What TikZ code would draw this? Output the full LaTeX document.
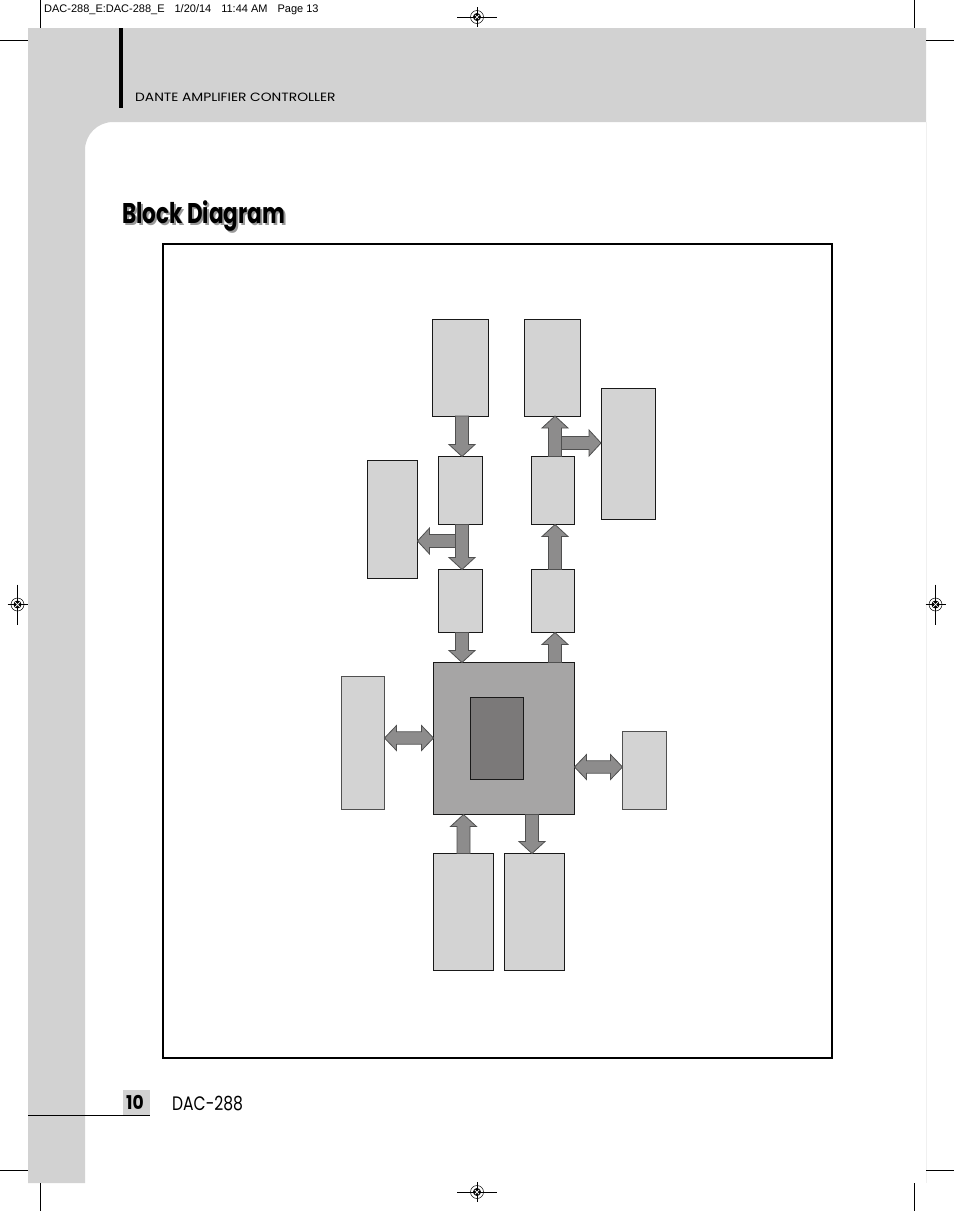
\documentclass[tikz,border=0pt]{standalone}
\usepackage{fontspec}
\usepackage{graphicx}
\newfontfamily\hdrfont{Liberation Sans}
\newfontfamily\futfont{Poppins}
\usetikzlibrary{calc}
\definecolor{bggray}{HTML}{D2D2D2}
\definecolor{boxfill}{HTML}{D3D3D3}
\definecolor{cpufill}{HTML}{A6A5A5}
\definecolor{innerfill}{HTML}{7B7979}
\definecolor{arrfill}{HTML}{8D8C8C}
\definecolor{arredge}{HTML}{505050}
\tikzset{
  blk/.style={draw=black!90, line width=1pt, fill=boxfill, inner sep=0pt, outer sep=0pt, anchor=north west},
  sblk/.style={draw=arredge, line width=0.8pt, fill=boxfill, inner sep=0pt, outer sep=0pt, anchor=north west},
  fatarr/.style={draw=arredge, line width=0.8pt, fill=arrfill, line join=miter},
  crop/.style={draw=black, line width=0.8pt},
  regline/.style={draw=black, line width=0.6pt},
}
\newcommand\fatarrow[2]{%
  \coordinate (fa-s) at (#1);
  \coordinate (fa-e) at (#2);
  \coordinate (fa-b) at ($(fa-e)!12pt!(fa-s)$);
  \draw[fatarr] ($(fa-s)!6.5pt!90:(fa-e)$) -- ($(fa-b)!6.5pt!-90:(fa-s)$) -- ($(fa-b)!13pt!-90:(fa-s)$) -- (fa-e) -- ($(fa-b)!13pt!90:(fa-s)$) -- ($(fa-b)!6.5pt!90:(fa-s)$) -- ($(fa-s)!6.5pt!-90:(fa-e)$) -- cycle;}
\newcommand\fatdouble[2]{%
  \coordinate (fa-s) at (#1);
  \coordinate (fa-e) at (#2);
  \coordinate (fa-b) at ($(fa-e)!12pt!(fa-s)$);
  \coordinate (fa-a) at ($(fa-s)!12pt!(fa-e)$);
  \draw[fatarr] (fa-s) -- ($(fa-a)!12.5pt!90:(fa-e)$) -- ($(fa-a)!6.2pt!90:(fa-e)$) -- ($(fa-b)!6.2pt!-90:(fa-s)$) -- ($(fa-b)!12.5pt!-90:(fa-s)$) -- (fa-e) -- ($(fa-b)!12.5pt!90:(fa-s)$) -- ($(fa-b)!6.2pt!90:(fa-s)$) -- ($(fa-a)!6.2pt!-90:(fa-e)$) -- ($(fa-a)!12.5pt!-90:(fa-e)$) -- cycle;}
\newcommand\regmark[3]{% center x, center y, 1 = horizontal long, 0 = vertical long
  \begin{scope}[shift={(#1,#2)}]
    \ifnum#3=1
      \draw[regline] (-20,0) -- (20,0); \draw[regline] (0,-10) -- (0,10);
    \else
      \draw[regline] (0,-20) -- (0,20); \draw[regline] (-10,0) -- (10,0);
    \fi
    \draw[line width=0.5pt] (0,0) circle[radius=6.5];
    \fill[black] (0,0) circle[radius=4];
    \draw[white, line width=0.7pt] (-2.3,-2.3) -- (2.3,2.3) (-2.3,2.3) -- (2.3,-2.3);
  \end{scope}}
\begin{document}
\begin{tikzpicture}[x=1pt, y=-1pt]
\useasboundingbox (0,0) rectangle (954,1211);
\fill[white] (0,0) rectangle (954,1211);
% page background band
\fill[bggray] (28,28) -- (926,28) -- (926,122) -- (113,122) arc[start angle=270, end angle=180, radius=28] -- (85,1183) -- (28,1183) -- cycle;
\draw[gray!12, line width=0.6pt] (926,122) -- (926,1183);
% crop marks
\draw[crop] (40,0) -- (40,28);
\draw[crop] (0,40) -- (28,40);
\draw[crop] (914,0) -- (914,28);
\draw[crop] (926,40) -- (954,40);
\draw[crop] (0,1170) -- (28,1170);
\draw[crop] (40,1183) -- (40,1211);
\draw[crop] (926,1170) -- (954,1170);
\draw[crop] (914,1183) -- (914,1211);
% registration marks
\regmark{477}{17}{1}
\regmark{477}{1192}{1}
\regmark{17.5}{604.5}{0}
\regmark{935.5}{604.5}{0}
% header texts
\node[anchor=base west, inner sep=0pt] (hdr) at (44,12) {\hdrfont\fontsize{11}{13}\selectfont DAC-288\_E:DAC-288\_E\hspace{10pt}1/20/14\hspace{10pt}11:44 AM\hspace{10pt}Page 13};
\fill[black] (119,28) rectangle (123,108);
\node[anchor=base west, inner sep=0pt] (sect) at (135,101.8) {\futfont\fontsize{12}{14}\selectfont\scalebox{1.15}[1]{DANTE AMPLIFIER CONTROLLER}};
\node[anchor=base west, inner sep=0pt, text=black!40] (titsh) at (124,225.3) {\futfont\bfseries\fontsize{28.5}{32}\selectfont\scalebox{0.755}[1]{Block Diagram}};
\node[anchor=base west, inner sep=0pt] (tit) at (122,223.3) {\futfont\bfseries\fontsize{28.5}{32}\selectfont\scalebox{0.755}[1]{Block Diagram}};
% footer
\fill[bggray] (123,1090) rectangle (150,1115);
\draw[black, line width=0.8pt] (28,1115) -- (150,1115);
\node[anchor=base west, inner sep=0pt] (pg) at (126,1109.5) {\futfont\bfseries\fontsize{19}{22}\selectfont\scalebox{0.9}[1]{10}};
\node[anchor=base west, inner sep=0pt] (model) at (172,1110) {\futfont\fontsize{19.5}{22}\selectfont\scalebox{0.8}[1]{DAC-288}};
% frame
\draw[black, line width=2.5pt] (163,244) rectangle (832,1058);
% blocks
\node[blk, minimum width=56pt, minimum height=97pt] (A) at (432,319) {};
\node[blk, minimum width=56pt, minimum height=97pt] (B) at (524.5,319) {};
\node[blk, minimum width=54.5pt, minimum height=131pt] (C) at (601,388.5) {};
\node[blk, minimum width=44pt, minimum height=68pt] (D) at (438.5,456.5) {};
\node[blk, minimum width=50pt, minimum height=118pt] (E) at (367.5,460.5) {};
\node[blk, minimum width=43pt, minimum height=68pt] (F) at (531.5,456.5) {};
\node[blk, minimum width=44pt, minimum height=63pt] (G) at (438.5,569.5) {};
\node[blk, minimum width=43pt, minimum height=63pt] (H) at (531.5,569.5) {};
\node[blk, fill=cpufill, minimum width=141pt, minimum height=152pt] (CPU) at (433.5,662.5) {};
\node[blk, fill=innerfill, minimum width=53pt, minimum height=82pt] (IN) at (470.5,697.5) {};
\node[sblk, minimum width=43pt, minimum height=133pt] (LB) at (341.5,676.5) {};
\node[sblk, minimum width=44pt, minimum height=78.5pt] (RB) at (622.5,731) {};
\node[blk, minimum width=60pt, minimum height=117pt] (BL) at (433.5,853.5) {};
\node[blk, minimum width=60pt, minimum height=117pt] (BR) at (504.5,853.5) {};
% guide coordinates
\coordinate (colL) at (462,0);
\coordinate (colR) at (555,0);
\coordinate (colB1) at (463.5,0);
\coordinate (colB2) at (532,0);
\coordinate (brL) at (462,541);
\coordinate (brR) at (555,443);
\coordinate (dl) at (0,738);
\coordinate (dr) at (0,767);
% connectors
\fatarrow{A.south -| colL}{D.north -| colL}
\fatarrow{brL}{E.east |- brL}
\fatarrow{D.south -| colL}{G.north -| colL}
\fatarrow{G.south -| colL}{CPU.north -| colL}
\fatarrow{CPU.north -| colR}{H.south -| colR}
\fatarrow{H.north -| colR}{F.south -| colR}
\fatarrow{brR}{C.west |- brR}
\fatarrow{F.north -| colR}{B.south -| colR}
\fatdouble{LB.east |- dl}{CPU.west |- dl}
\fatdouble{CPU.east |- dr}{RB.west |- dr}
\fatarrow{BL.north -| colB1}{CPU.south -| colB1}
\fatarrow{CPU.south -| colB2}{BR.north -| colB2}
\end{tikzpicture}
\end{document}
